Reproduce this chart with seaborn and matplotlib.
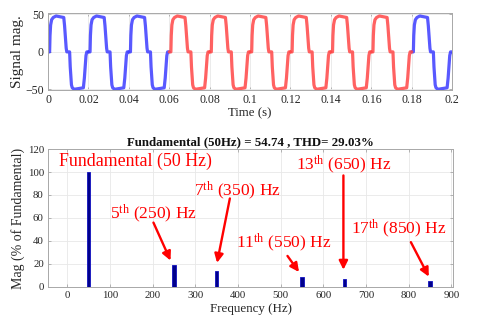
import numpy as np
import pandas as pd
import matplotlib
matplotlib.use("Agg")
import matplotlib.pyplot as plt
import seaborn as sns

# ---------------- data ----------------
# one cycle (50 Hz, 0.02 s) of the measured waveform, read from the picture
cycle_t = [0.0, 0.0008, 0.0010, 0.0013, 0.0018, 0.0026, 0.0040, 0.0078, 0.0082,
           0.0090, 0.0093, 0.0107, 0.0110, 0.0116, 0.0120, 0.0130, 0.0175,
           0.0180, 0.0188, 0.0192, 0.0200]
cycle_v = [0, 0, 22, 36, 43, 46, 48, 46, 35, 5, 0, 0, -20, -44, -48, -50, -48,
           -35, -5, 0, 0]
cycle_start = [0.0, 0.02, 0.04, 0.06, 0.08, 0.10, 0.12, 0.14, 0.16, 0.18]
cycle_state = ["normal", "normal", "normal", "fault", "fault", "fault",
               "fault", "fault", "fault", "normal"]

time_ticks = [0, 0.02, 0.04, 0.06, 0.08, 0.1, 0.12, 0.14, 0.16, 0.18, 0.2]
time_labels = ["0", "0.02", "0.04", "0.06", "0.08", "0.1", "0.12", "0.14",
               "0.16", "0.18", "0.2"]
sig_ticks = [-50, 0, 50]

harm_freq = [50, 250, 350, 550, 650, 850]
harm_mag = [100, 19.5, 13.5, 9, 7, 5]
freq_ticks = [0, 100, 200, 300, 400, 500, 600, 700, 800, 900]
mag_ticks = [0, 20, 40, 60, 80, 100, 120]

title_text = "Fundamental (50Hz) = 54.74 , THD= 29.03%"
ann_labels = [r"5$^{\rm th}$ (250) Hz", r"7$^{\rm th}$ (350) Hz",
              r"11$^{\rm th}$ (550) Hz", r"13$^{\rm th}$ (650) Hz",
              r"17$^{\rm th}$ (850) Hz"]

# ---------------- style ----------------
sns.set_theme(style="whitegrid")
plt.rcParams["font.family"] = ["Liberation Serif", "DejaVu Serif"]
plt.rcParams["mathtext.fontset"] = "custom"
plt.rcParams["mathtext.rm"] = "Liberation Serif"
plt.rcParams["mathtext.it"] = "Liberation Serif:italic"
plt.rcParams["mathtext.bf"] = "Liberation Serif:bold"

frames = []
for k, (t0, st) in enumerate(zip(cycle_start, cycle_state)):
    frames.append(pd.DataFrame({"t": np.asarray(cycle_t) + t0,
                                "v": cycle_v, "cycle": k, "state": st}))
wave = pd.DataFrame(pd.concat(frames, ignore_index=True))
harm = pd.DataFrame({"f": harm_freq, "m": harm_mag})

fig = plt.figure(figsize=(4.8, 3.25), dpi=100)
ax1 = fig.add_axes([0.10, 0.723, 0.842, 0.237])
ax2 = fig.add_axes([0.10, 0.117, 0.844, 0.4245])

spine_col = "#a8a8a8"
tick_col = "#262626"

def style_axes(ax, fs):
    ax.set_facecolor("white")
    for s in ax.spines.values():
        s.set_visible(True)
        s.set_color(spine_col)
        s.set_linewidth(0.7)
    ax.grid(True, color="#e8e8e8", linewidth=0.6)
    ax.tick_params(direction="in", length=2.5, width=0.6, color=spine_col,
                   labelsize=fs, labelcolor=tick_col, pad=3,
                   top=True, right=True, bottom=True, left=True)

# ---- top: waveform ----
sns.lineplot(data=wave, x="t", y="v", hue="state", units="cycle",
             estimator=None, sort=False, ax=ax1, legend=False,
             palette={"normal": "#3c3cff", "fault": "#ff4646"},
             linewidth=2.3, alpha=0.85)
ax1.set_xlim(0, 0.2)
ax1.set_ylim(-51, 52)
ax1.set_xticks(time_ticks)
ax1.set_xticklabels(time_labels)
ax1.set_yticks(sig_ticks)
style_axes(ax1, 8.5)
ax1.set_xlabel("Time (s)", fontsize=9.3, color=tick_col, labelpad=1)
ax1.set_ylabel("Signal mag.", fontsize=11, color=tick_col, labelpad=1)

# ---- bottom: harmonic spectrum ----
sns.barplot(data=harm, x="f", y="m", native_scale=True, width=0.075,
            color="#00008b", edgecolor="#1010c0", linewidth=0.6,
            saturation=1, ax=ax2)
ax2.set_xlim(-45, 904)
ax2.set_ylim(0, 120)
ax2.set_xticks(freq_ticks)
ax2.set_yticks(mag_ticks)
style_axes(ax2, 7.8)
ax2.set_xlabel("Frequency (Hz)", fontsize=9.4, color=tick_col, labelpad=2)
ax2.set_ylabel("Mag (% of Fundamental)", fontsize=10, color=tick_col,
               labelpad=2)
ax2.set_title(title_text, fontsize=9.3, fontweight="bold", color="#111111",
              pad=3)

red = "#ff0000"
ax2.text(159, 109, "Fundamental (50 Hz)", color=red, fontsize=12.9,
         ha="center", va="center")
ann_pos = [(203, 64), (398, 84), (508, 38), (647, 106), (777, 51)]
arrow_tail = [(202, 56), (381, 77), (516, 27), (647, 97), (805, 39)]
arrow_tip = [(242, 23), (351, 21), (543, 13), (647, 15), (847, 9)]
for lab, p, a, b in zip(ann_labels, ann_pos, arrow_tail, arrow_tip):
    ax2.text(p[0], p[1], lab, color=red, fontsize=12.5, ha="center",
             va="center")
    ax2.annotate("", xy=b, xytext=a,
                 arrowprops=dict(arrowstyle="-|>", color=red, lw=1.7,
                                 mutation_scale=13, shrinkA=0, shrinkB=0))

fig.savefig("out.png", dpi=100)
